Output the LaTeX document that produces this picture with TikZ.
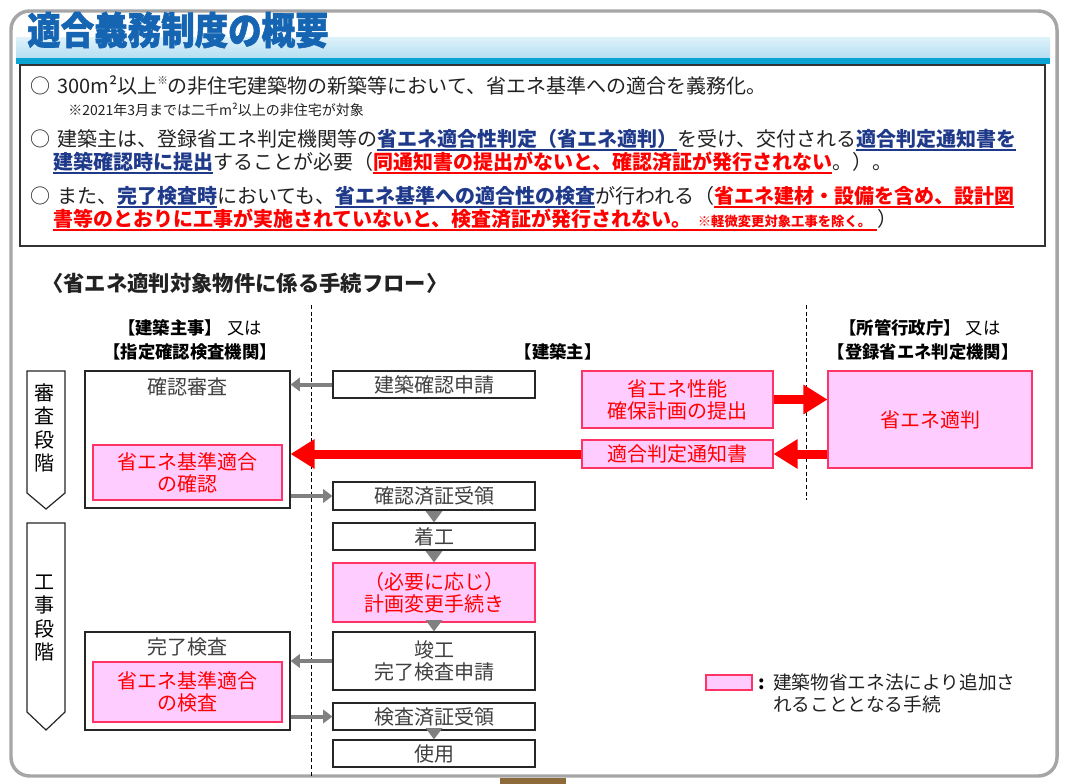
\documentclass[tikz,border=0pt]{standalone}
\usepackage{fontspec}
\setmainfont{Noto Sans CJK JP}
\newfontfamily\ttlfont{Noto Sans CJK JP}[BoldFeatures={FakeBold=1.6}]
\usetikzlibrary{arrows.meta}
\definecolor{navyul}{HTML}{1F3A8A}
\definecolor{titleblue}{HTML}{1565B3}
\definecolor{pinkfill}{HTML}{FFCCFF}
\definecolor{pinkline}{HTML}{FF3366}
\definecolor{txtgray}{HTML}{404040}
\definecolor{arrgray}{HTML}{808080}
\definecolor{cyanbar}{HTML}{0AA3D4}
\definecolor{bandtop}{HTML}{DDF1FA}
\definecolor{bandbot}{HTML}{B5DFF2}
\definecolor{mybrown}{HTML}{8C6A3A}
\definecolor{bodytxt}{HTML}{222222}
\newcommand\setfs[1]{\fontsize{#1}{#1}\selectfont}
\newcommand\ulx[1]{\setbox0\hbox{#1}\rlap{\rule[-3pt]{\wd0}{1.1pt}}\box0}
\newcommand\blu[1]{{\color{navyul}\bfseries\ulx{#1}}}
\newcommand\rd[1]{{\color{red}\bfseries\ulx{#1}}}
\begin{document}
\begin{tikzpicture}[x=0.75pt,y=-0.75pt,
  wh/.style 2 args={minimum width=#1*0.75pt, minimum height=#2*0.75pt},
  box/.style={draw=black!85, line width=0.8pt, fill=white, text=txtgray, inner sep=0pt, align=center, font=\fontsize{15}{16.5}\selectfont},
  pbox/.style={draw=pinkline, line width=0.8pt, fill=pinkfill, text=red, inner sep=0pt, align=center, font=\fontsize{15}{16.5}\selectfont},
  plain/.style={inner sep=0pt, align=center},
  line/.style={inner sep=0pt, anchor=west, text=bodytxt, font=\setfs{15}},
  hdr/.style={inner sep=0pt, text=black, font=\setfs{13}},
  garrow/.style={draw=arrgray, line width=3pt, -{Triangle[length=7pt,width=10pt]}},
  dtri/.style={draw=arrgray, line width=2pt, -{Triangle[length=8.5pt,width=12pt]}},
  rarrow/.style={draw=red, line width=6.75pt, -{Triangle[length=18pt,width=21pt]}},
  stage/.style={draw=black!85, line width=0.9pt, fill=white},
  dashline/.style={draw=black, line width=0.6pt, dash pattern=on 3pt off 2pt}
]
\useasboundingbox (0,0) rectangle (1066,784);
\fill[white] (0,0) rectangle (1066,784);
% outer frame
\draw[draw=black!35, line width=2.6pt, rounded corners=14pt] (11,11) rectangle (1057,776);
% brown tab
\fill[mybrown] (500,778) rectangle (566,784);
% title band
\shade[top color=bandtop, bottom color=bandbot] (16,38) rectangle (1050,58);
\fill[cyanbar] (16,58) rectangle (1050,64);
\node[inner sep=0pt, anchor=west, text=titleblue, font=\ttlfont\bfseries\setfs{27}] (title) at (27,30) {\scalebox{0.93}[1.06]{適合義務制度の概要}};
% text box
\draw[draw=black!80, line width=0.8pt] (20,65) rectangle (1045,246);
\node[line] (l1) at (30,86) {○\hspace{0.35em}300m²以上\raisebox{0.45em}{\setfs{8}※}の非住宅建築物の新築等において、省エネ基準への適合を義務化。};
\node[line, font=\setfs{10.5}] (l1b) at (68,110) {※2021年3月までは二千m²以上の非住宅が対象};
\node[line] (l2) at (30,140) {○\hspace{0.35em}建築主は、登録省エネ判定機関等の\blu{省エネ適合性判定（省エネ適判）}を受け、交付される\blu{適合判定通知書を}};
\node[line] (l2b) at (53,163) {\blu{建築確認時に提出}することが必要（\rd{同通知書の提出がないと、確認済証が発行されない}。）。};
\node[line] (l3) at (30,197) {○\hspace{0.35em}また、\blu{完了検査時}においても、\blu{省エネ基準への適合性の検査}が行われる（\rd{省エネ建材・設備を含め、設計図}};
\node[line] (l3b) at (53,220) {\rd{書等のとおりに工事が実施されていないと、検査済証が発行されない。\hspace{0.3em}{\setfs{10}※軽微変更対象工事を除く。}\hspace{0.3em}}）};
% flow title
\node[inner sep=0pt, anchor=west, text=bodytxt, font=\bfseries\setfs{16}] (flowtitle) at (42,283) {〈省エネ適判対象物件に係る手続フロー〉};
% dashed separators
\coordinate (d1t) at (311,305); \coordinate (d1b) at (311,776);
\coordinate (d2t) at (806,305); \coordinate (d2b) at (806,500);
\draw[dashline] (d1t) -- (d1b);
\draw[dashline] (d2t) -- (d2b);
% headers
\node[hdr] (hl1) at (190,328) {\textbf{【建築主事】}\hspace{0.3em}又は};
\node[hdr, font=\bfseries\setfs{13}] (hl2) at (190,352) {【指定確認検査機関】};
\node[hdr, font=\bfseries\setfs{13}] (hm) at (558,352) {【建築主】};
\node[hdr] (hr1) at (920,328) {\textbf{【所管行政庁】}\hspace{0.3em}又は};
\node[hdr, font=\bfseries\setfs{13}] (hr2) at (923,352) {【登録省エネ判定機関】};
% stage arrows
\draw[stage] (27,371) -- (65,371) -- (65,493) -- (46,509) -- (27,493) -- cycle;
\node[plain, font=\fontsize{15}{17.5}\selectfont] (st1) at (44,428) {審\\査\\段\\階};
\draw[stage] (27,523) -- (65,523) -- (65,712) -- (46,730) -- (27,712) -- cycle;
\node[plain, font=\fontsize{15}{17.5}\selectfont] (st2) at (44,618) {工\\事\\段\\階};
% left column
\node[box, wh={205}{137}] (kakunin) at (187.5,439.5) {};
\node[plain, text=txtgray, font=\setfs{15}] (kakunintxt) at (187.5,387) {確認審査};
\node[pbox, wh={189}{55}] (pink1) at (187.5,472.5) {省エネ基準適合\\の確認};
\node[box, wh={205}{98}] (kanryo) at (187.5,681) {};
\node[plain, text=txtgray, font=\setfs{15}] (kanryotxt) at (187.5,647) {完了検査};
\node[pbox, wh={189}{60}] (pink2) at (187.5,692) {省エネ基準適合\\の検査};
% middle column
\node[box, wh={202}{27}] (shinsei) at (434,384.5) {建築確認申請};
\node[box, wh={202}{28}] (zumi1) at (434,496) {確認済証受領};
\node[box, wh={202}{27}] (chakko) at (434,536.5) {着工};
\node[pbox, wh={202}{59}] (henko) at (434,592.5) {（必要に応じ）\\計画変更手続き};
\node[box, wh={202}{58}] (shunko) at (434,661) {竣工\\完了検査申請};
\node[box, wh={202}{27}] (zumi2) at (434,716.5) {検査済証受領};
\node[box, wh={202}{27}] (shiyo) at (434,753.5) {使用};
% right side
\node[pbox, wh={191}{57}] (teishutsu) at (677.5,399.5) {省エネ性能\\確保計画の提出};
\node[pbox, wh={191}{28}] (tsuchi) at (677.5,454) {適合判定通知書};
\node[pbox, wh={204}{97}] (tekihan) at (930,419.5) {省エネ適判};
% gray arrows
\draw[garrow] (shinsei.west) -- (kakunin.east |- shinsei.west);
\draw[garrow] (kakunin.east |- zumi1.west) -- (zumi1.west);
\draw[garrow] (shunko.west) -- (kanryo.east |- shunko.west);
\draw[garrow] (kanryo.east |- zumi2.west) -- (zumi2.west);
\draw[dtri] (zumi1.south) -- (chakko.north);
\draw[dtri] (chakko.south) -- (henko.north);
\draw[dtri] (henko.south) -- (shunko.north);
\draw[dtri] (zumi2.south) -- (shiyo.north);
% red arrows
\draw[rarrow] (teishutsu.east) -- (tekihan.west |- teishutsu.east);
\draw[rarrow] (tekihan.west |- tsuchi.east) -- (tsuchi.east);
\draw[rarrow] (tsuchi.west) -- (kakunin.east |- tsuchi.west);
% legend
\node[pbox, wh={46}{15}] (legbox) at (729,682.5) {};
\node[inner sep=0pt, anchor=west, font=\bfseries\setfs{14}] (legcolon) at (758,684) {:};
\node[inner sep=0pt, anchor=north west, align=left, text=bodytxt, font=\fontsize{14}{17}\selectfont] (legtxt) at (773,673) {建築物省エネ法により追加さ\\れることとなる手続};
\end{tikzpicture}
\end{document}
